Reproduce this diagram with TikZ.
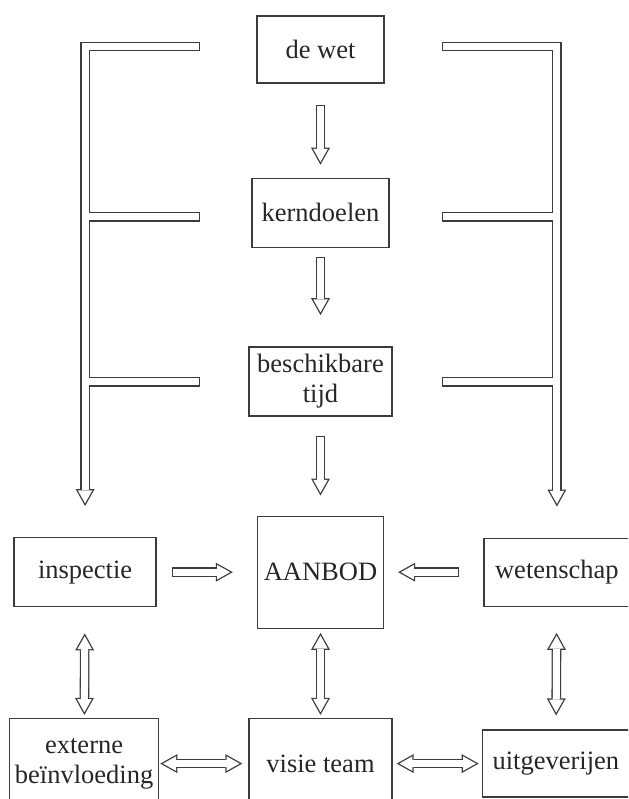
\documentclass[tikz,border=0pt]{standalone}
\usepackage{fontspec}
\setmainfont{Liberation Serif}
\usetikzlibrary{positioning,calc,arrows.meta}

\definecolor{ink}{RGB}{60,60,60}

\tikzset{
	box/.style={draw=ink, line width=1.4pt, inner sep=0pt, align=center,
		text=black!85, font=\fontsize{26.5}{30}\selectfont},
	Outer/.tip={Triangle[width=19pt,length=17pt,line width=0pt]},
	Inner/.tip={Triangle[width=14.6pt,length=13pt,line width=0pt]},
	% hollow arrow: {gap at start}{gap at end}
	hollow/.style 2 args={draw=white, line width=7pt,
		shorten <=#1+1.3pt, shorten >=#2+2.7pt, -{Inner},
		preaction={draw=ink, line width=9.6pt, shorten <=#1, shorten >=#2, -{Outer}}},
	hollowboth/.style 2 args={draw=white, line width=7pt,
		shorten <=#1+2.7pt, shorten >=#2+2.7pt, {Inner}-{Inner},
		preaction={draw=ink, line width=9.6pt, shorten <=#1, shorten >=#2, {Outer}-{Outer}}},
	arm/.style={draw=white, line width=7pt, shorten <=1.3pt,
		preaction={draw=ink, line width=9.6pt, shorten <=0pt}},
}

\begin{document}
\begin{tikzpicture}[x=1pt, y=1pt]
\useasboundingbox (0,0) rectangle (628,-799);
\clip (0,0) rectangle (628,-799);

% middle column
\node[box, minimum width=127pt, minimum height=67pt] (wet) at (320.5,-49.5) {de wet};
\node[box, minimum width=137pt, minimum height=69pt, below=94pt of wet] (kern) {kerndoelen};
\node[box, minimum width=143pt, minimum height=69pt, below=98pt of kern] (tijd) {beschikbare\\tijd};
\node[box, minimum width=126pt, minimum height=112pt, below=99pt of tijd] (aanbod) {AANBOD};

% sides
\node[box, minimum width=142pt, minimum height=69pt, left=100pt of aanbod] (insp) {inspectie};
\node[box, minimum width=146pt, minimum height=68pt, right=99pt of aanbod] (wetsch) {wetenschap};

% bottom row
\node[box, minimum width=143pt, minimum height=90pt, below=89pt of aanbod] (visie) {visie team};
\node[box, minimum width=149pt, minimum height=90pt, left=89pt of visie] (extern) {externe\\beïnvloeding};
\node[box, minimum width=147pt, minimum height=67pt, right=89pt of visie] (uitg) {uitgeverijen};

% free ends of the pipes
\coordinate (lwet) at ([shift={(-120.5,3)}]wet.center);
\coordinate (lkern) at ([shift={(-120.5,-4)}]kern.center);
\coordinate (ltijd) at ([shift={(-120.5,-0.5)}]tijd.center);
\coordinate (rwet) at ([shift={(121.5,3)}]wet.center);
\coordinate (rkern) at ([shift={(121.5,-4)}]kern.center);
\coordinate (rtijd) at ([shift={(121.5,-0.5)}]tijd.center);

% pipes
\draw[hollow={0pt}{31pt}] (lwet) -| (insp);
\draw[hollow={0pt}{31pt}] (rwet) -| (wetsch);
\draw[arm] (lkern) -- ($(lkern -| insp)+(3.5,0)$);
\draw[arm] (ltijd) -- ($(ltijd -| insp)+(3.5,0)$);
\draw[arm] (rkern) -- ($(rkern -| wetsch)+(-3.5,0)$);
\draw[arm] (rtijd) -- ($(rtijd -| wetsch)+(-3.5,0)$);

% one way
\draw[hollow={21pt}{13pt}] (wet) -- (kern);
\draw[hollow={9pt}{31pt}] (kern) -- (tijd);
\draw[hollow={19pt}{20pt}] (tijd) -- (aanbod);
\draw[hollow={15pt}{24pt}] (insp) -- (aanbod);
\draw[hollow={24pt}{14pt}] (wetsch) -- (aanbod);

% both ways
\draw[hollowboth={26pt}{3pt}] (insp) -- (extern);
\draw[hollowboth={4pt}{3pt}] (aanbod) -- (visie);
\draw[hollowboth={26pt}{14pt}] (wetsch) -- (uitg);
\draw[hollowboth={1pt}{6pt}] (extern) -- (visie);
\draw[hollowboth={4pt}{3pt}] (visie) -- (uitg);

\end{tikzpicture}
\end{document}
